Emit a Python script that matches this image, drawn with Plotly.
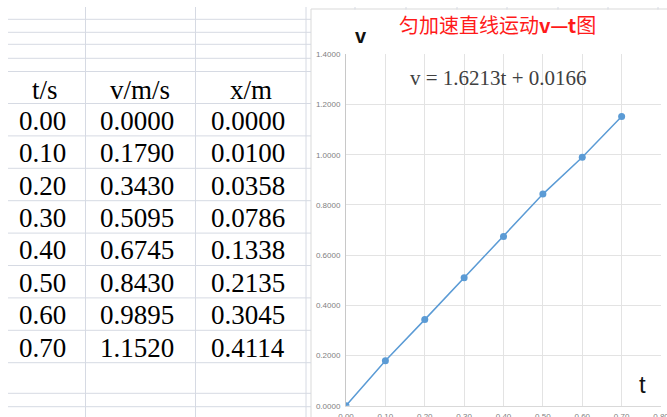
import plotly.graph_objects as go

# Measured data: time, velocity, displacement
t_s = [0.00, 0.10, 0.20, 0.30, 0.40, 0.50, 0.60, 0.70]
v_ms = [0.0000, 0.1790, 0.3430, 0.5095, 0.6745, 0.8430, 0.9895, 1.1520]
x_m = [0.0000, 0.0100, 0.0358, 0.0786, 0.1338, 0.2135, 0.3045, 0.4114]

headers = ["t/s", "v/m/s", "x/m"]
chart_title_cn = "匀加速直线运动"
chart_title_sym = "v—t"
chart_title_end = "图"
fit_label = "v = 1.6213t + 0.0166"

W, H = 667, 417


def px(x):
    return x / W


def py(y):
    return 1 - y / H


SHEET_LINE = "#d6dae3"
shapes = []

# Spreadsheet grid: column separators
for cx in (85.5, 195.5, 306):
    shapes.append(dict(type="line", xref="paper", yref="paper",
                       x0=px(cx), x1=px(cx), y0=py(7), y1=py(H),
                       line=dict(color=SHEET_LINE, width=1)))
# Column separators peeking above the chart box
for cx in (355, 406, 457, 507, 558, 608, 658):
    shapes.append(dict(type="line", xref="paper", yref="paper",
                       x0=px(cx), x1=px(cx), y0=py(7), y1=py(9.5),
                       line=dict(color=SHEET_LINE, width=1)))

# Spreadsheet grid: row separators
row_top = 103.5
row_h = 32.4
row_lines = [19.3, 32.3, 44.3, 58.3, 71.5]
row_lines += [row_top + row_h * k for k in range(len(t_s) + 1)]
row_lines += [393.3, 406.7]
for ry in row_lines:
    shapes.append(dict(type="line", xref="paper", yref="paper",
                       x0=px(8), x1=px(311), y0=py(ry), y1=py(ry),
                       line=dict(color=SHEET_LINE, width=1)))

# Chart box (white panel with light border)
shapes.append(dict(type="rect", xref="paper", yref="paper",
                   x0=px(311), x1=px(W + 5), y0=py(H + 5), y1=py(9),
                   line=dict(color="#d9d9d9", width=1),
                   fillcolor="white", layer="below"))

annotations = []
TABLE_FONT = dict(family="Liberation Serif, DejaVu Serif, serif", size=27, color="#000000")
col_centers = [42, 137, 248]

for cx, h in zip(col_centers, headers):
    annotations.append(dict(x=px(cx + 3), y=py(90), xref="paper", yref="paper",
                            text=h, showarrow=False, xanchor="center",
                            yanchor="middle", font=TABLE_FONT))

for i, (tv, vv, xv) in enumerate(zip(t_s, v_ms, x_m)):
    cy = row_top + row_h * (i + 0.5) + 1
    for cx, s in zip(col_centers, (f"{tv:.2f}", f"{vv:.4f}", f"{xv:.4f}")):
        annotations.append(dict(x=px(cx), y=py(cy), xref="paper", yref="paper",
                                text=s, showarrow=False, xanchor="center",
                                yanchor="middle", font=TABLE_FONT))

# Chart title, fitted-line equation and axis letters
annotations.append(dict(x=px(497), y=py(25), xref="paper", yref="paper",
                        text=f"{chart_title_cn}<b>{chart_title_sym}</b>{chart_title_end}",
                        showarrow=False, xanchor="center", yanchor="middle",
                        font=dict(family="Noto Sans CJK SC, sans-serif", size=20, color="#ff1a1a")))
annotations.append(dict(x=px(498), y=py(78), xref="paper", yref="paper",
                        text=fit_label, showarrow=False,
                        xanchor="center", yanchor="middle",
                        font=dict(family="Liberation Serif, serif", size=21, color="#404040")))
annotations.append(dict(x=px(361), y=py(36), xref="paper", yref="paper",
                        text="<b>v</b>", showarrow=False,
                        xanchor="center", yanchor="middle",
                        font=dict(family="Liberation Sans, Arial, sans-serif", size=20, color="#111111")))
annotations.append(dict(x=px(642), y=py(384), xref="paper", yref="paper",
                        text="t", showarrow=False,
                        xanchor="center", yanchor="middle",
                        font=dict(family="Liberation Sans, Arial, sans-serif", size=24, color="#111111")))

fig = go.Figure()
fig.add_trace(go.Scatter(
    x=t_s, y=v_ms, mode="lines+markers",
    line=dict(color="#5b9bd5", width=1.5),
    marker=dict(color="#5b9bd5", size=7),
    showlegend=False, hoverinfo="skip",
))

TICK_FONT = dict(family="Liberation Sans, Arial, sans-serif", size=8, color="#7f7f7f")

fig.update_layout(
    width=W, height=H,
    autosize=False,
    margin=dict(l=0, r=0, t=0, b=0, pad=0),
    paper_bgcolor="white",
    plot_bgcolor="rgba(0,0,0,0)",
    shapes=shapes,
    annotations=annotations,
    xaxis=dict(
        domain=[px(346), px(661)],
        range=[0, 0.8], dtick=0.1, tick0=0, tickformat=".2f",
        showgrid=True, gridcolor="#e3e3e3", gridwidth=1,
        zeroline=False, showline=True, linecolor="#d9d9d9", linewidth=1,
        mirror=False, ticks="", tickfont=TICK_FONT, fixedrange=True,
        automargin=False, ticklabelstandoff=3, ticklabeloverflow="allow",
    ),
    yaxis=dict(
        domain=[py(405.7), py(54.3)],
        range=[0, 1.4], dtick=0.2, tick0=0, tickformat=".4f",
        showgrid=True, gridcolor="#e3e3e3", gridwidth=1,
        zeroline=False, showline=True, linecolor="#c8c8c8", linewidth=1,
        ticks="", tickfont=TICK_FONT, fixedrange=True,
        automargin=False, ticklabelstandoff=3,
    ),
)

fig.write_html("out.html")
